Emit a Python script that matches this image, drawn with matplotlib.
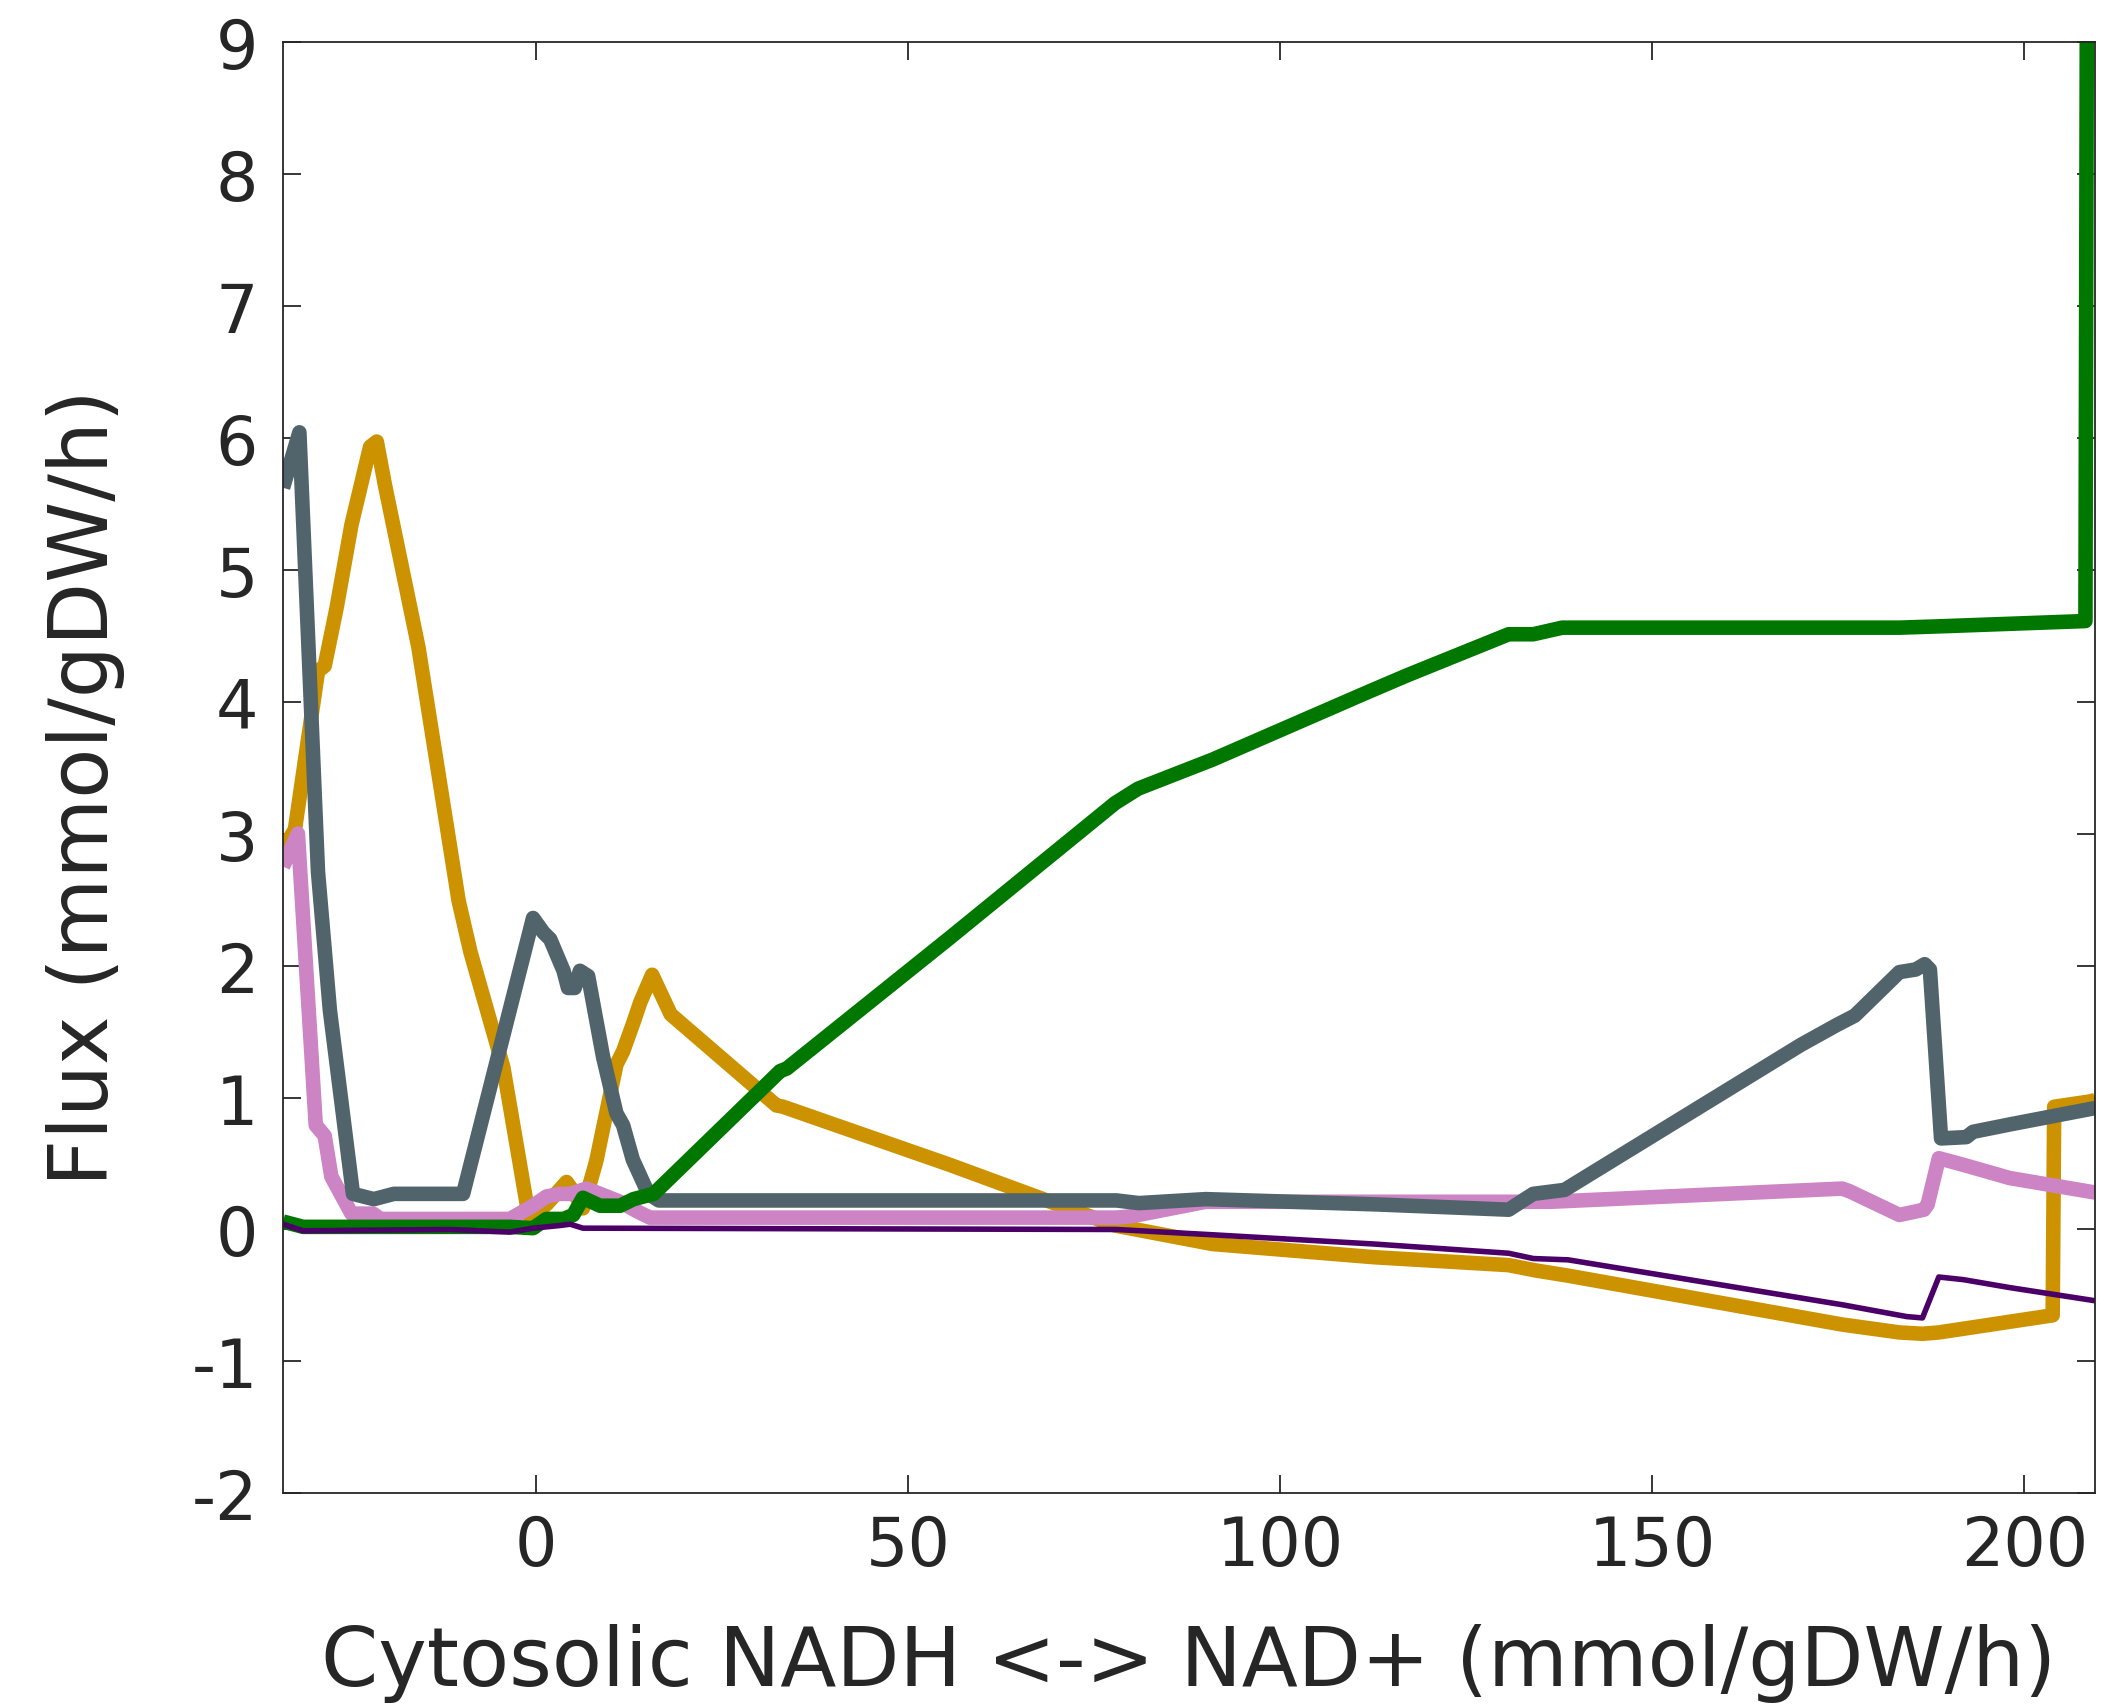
import numpy as np
import matplotlib.pyplot as plt
import matplotlib.ticker as ticker

# Dados (x = fluxo NADH <-> NAD+, y = fluxo)
gold_x = [-34.0, -32.4, -29.3, -28.4, -26.8, -24.8, -22.3, -21.4, -20.3, -15.8, -10.4, -8.8, -4.4,
          -1.0, -0.8, 1.4, 4.1, 5.0, 6.3, 8.1, 10.8, 11.7, 13.1, 14.0, 15.6, 18.1, 32.3, 33.2,
          55.6, 77.8, 90.9, 112.6, 130.7, 134.3, 138.7, 175.5, 183.2, 186.3, 188.5, 203.8,
          204.0, 208.8, 209.5]
gold_y = [2.88, 3.03, 4.23, 4.27, 4.71, 5.34, 5.93, 5.97, 5.64, 4.41, 2.49, 2.10, 1.23,
          0.11, 0.09, 0.19, 0.36, 0.29, 0.16, 0.52, 1.25, 1.35, 1.57, 1.72, 1.93, 1.63, 0.94, 0.93,
          0.49, 0.03, -0.11, -0.21, -0.27, -0.31, -0.35, -0.72, -0.78, -0.79, -0.78, -0.65,
          0.93, 0.97, 0.98]

pink_x = [-34.0, -32.0, -29.6, -28.4, -27.5, -24.8, -21.9, -20.9, -3.5, -0.4, 1.4, 3.2, 4.6,
          6.8, 11.3, 13.5, 15.3, 78.0, 80.0, 90.0, 136.3, 175.5, 176.5, 183.2, 186.5, 187.0,
          188.5, 191.8, 198.0, 209.5]
pink_y = [2.75, 3.00, 0.79, 0.71, 0.40, 0.12, 0.12, 0.08, 0.08, 0.18, 0.25, 0.27, 0.27,
          0.31, 0.21, 0.14, 0.09, 0.09, 0.10, 0.21, 0.21, 0.31, 0.29, 0.11, 0.15, 0.19,
          0.54, 0.49, 0.39, 0.28]

gray_x = [-34.0, -31.8, -29.3, -27.7, -24.6, -21.8, -19.1, -9.8, -0.4, 1.0, 1.9, 3.7, 4.3, 5.2,
          5.9, 7.0, 9.0, 10.8, 11.7, 13.0, 15.1, 16.5, 78.0, 81.0, 90.0, 113.0, 130.7, 134.0,
          138.2, 170.0, 174.8, 177.2, 183.2, 185.4, 186.6, 187.3, 188.8, 192.2, 193.1, 198.4,
          209.5]
gray_y = [5.62, 6.04, 2.71, 1.66, 0.27, 0.23, 0.27, 0.27, 2.36, 2.25, 2.20, 1.96, 1.83, 1.83,
          1.96, 1.92, 1.31, 0.88, 0.79, 0.53, 0.27, 0.22, 0.22, 0.20, 0.23, 0.19, 0.15, 0.27,
          0.30, 1.40, 1.55, 1.62, 1.95, 1.97, 2.01, 1.97, 0.69, 0.70, 0.74, 0.80, 0.92]

green_x = [-34.0, -31.3, -11.6, -3.5, -0.4, 1.4, 3.7, 5.0, 6.3, 8.6, 11.3, 13.1, 15.8, 32.8,
           33.7, 55.6, 77.8, 80.9, 90.9, 111.7, 117.1, 130.7, 134.0, 137.9, 183.2, 188.6,
           208.2, 208.4]
green_y = [0.06, 0.02, 0.02, 0.02, 0.01, 0.08, 0.08, 0.11, 0.24, 0.18, 0.18, 0.23, 0.27, 1.20,
           1.22, 2.21, 3.23, 3.34, 3.56, 4.07, 4.20, 4.51, 4.51, 4.56, 4.56, 4.57,
           4.61, 9.5]

purple_x = [-34.0, -31.3, -11.6, -3.5, -0.4, 3.2, 4.6, 6.3, 78.0, 90.9, 112.6, 130.7, 134.0,
            138.7, 175.5, 184.2, 186.3, 188.5, 191.8, 198.0, 209.5]
purple_y = [0.04, -0.01, 0.00, -0.02, 0.01, 0.03, 0.04, 0.01, 0.00, -0.04, -0.11, -0.18, -0.22,
            -0.23, -0.57, -0.66, -0.67, -0.36, -0.38, -0.44, -0.54]

plt.rcParams['font.family'] = 'DejaVu Sans'
plt.rcParams['axes.unicode_minus'] = False  # hífen simples nos rótulos negativos
texto = '#262626'

fig = plt.figure(figsize=(21.12, 17.06), dpi=100)
ax = fig.add_axes([0.134, 0.124, 0.858, 0.851])

kw = dict(solid_joinstyle='round', solid_capstyle='butt')
ax.plot(gold_x, gold_y, color='#CC9200', linewidth=10.5, **kw)
ax.plot(pink_x, pink_y, color='#CC84C4', linewidth=10.5, **kw)
ax.plot(gray_x, gray_y, color='#52646B', linewidth=10.5, **kw)
ax.plot(green_x, green_y, color='#007800', linewidth=10.5, **kw)
ax.plot(purple_x, purple_y, color='#4B0068', linewidth=4.0, **kw)

ax.set_xlim(-34, 209.5)
ax.set_ylim(-2, 9)
ax.xaxis.set_major_locator(ticker.MultipleLocator(50))
ax.yaxis.set_major_locator(ticker.MultipleLocator(1))

for s in ax.spines.values():
    s.set_color(texto)
    s.set_linewidth(1.3)
ax.tick_params(direction='in', length=13, width=1.3, colors=texto, labelsize=48,
               top=True, right=True)
ax.tick_params(axis='x', pad=14)
ax.tick_params(axis='y', pad=18)

ax.set_xlabel('Cytosolic NADH <-> NAD+ (mmol/gDW/h)', fontsize=59, color=texto, labelpad=32)
ax.set_ylabel('Flux (mmol/gDW/h)', fontsize=59, color=texto)
ax.yaxis.set_label_coords(-0.087, 0.487)

fig.savefig('out.png', dpi=100)
